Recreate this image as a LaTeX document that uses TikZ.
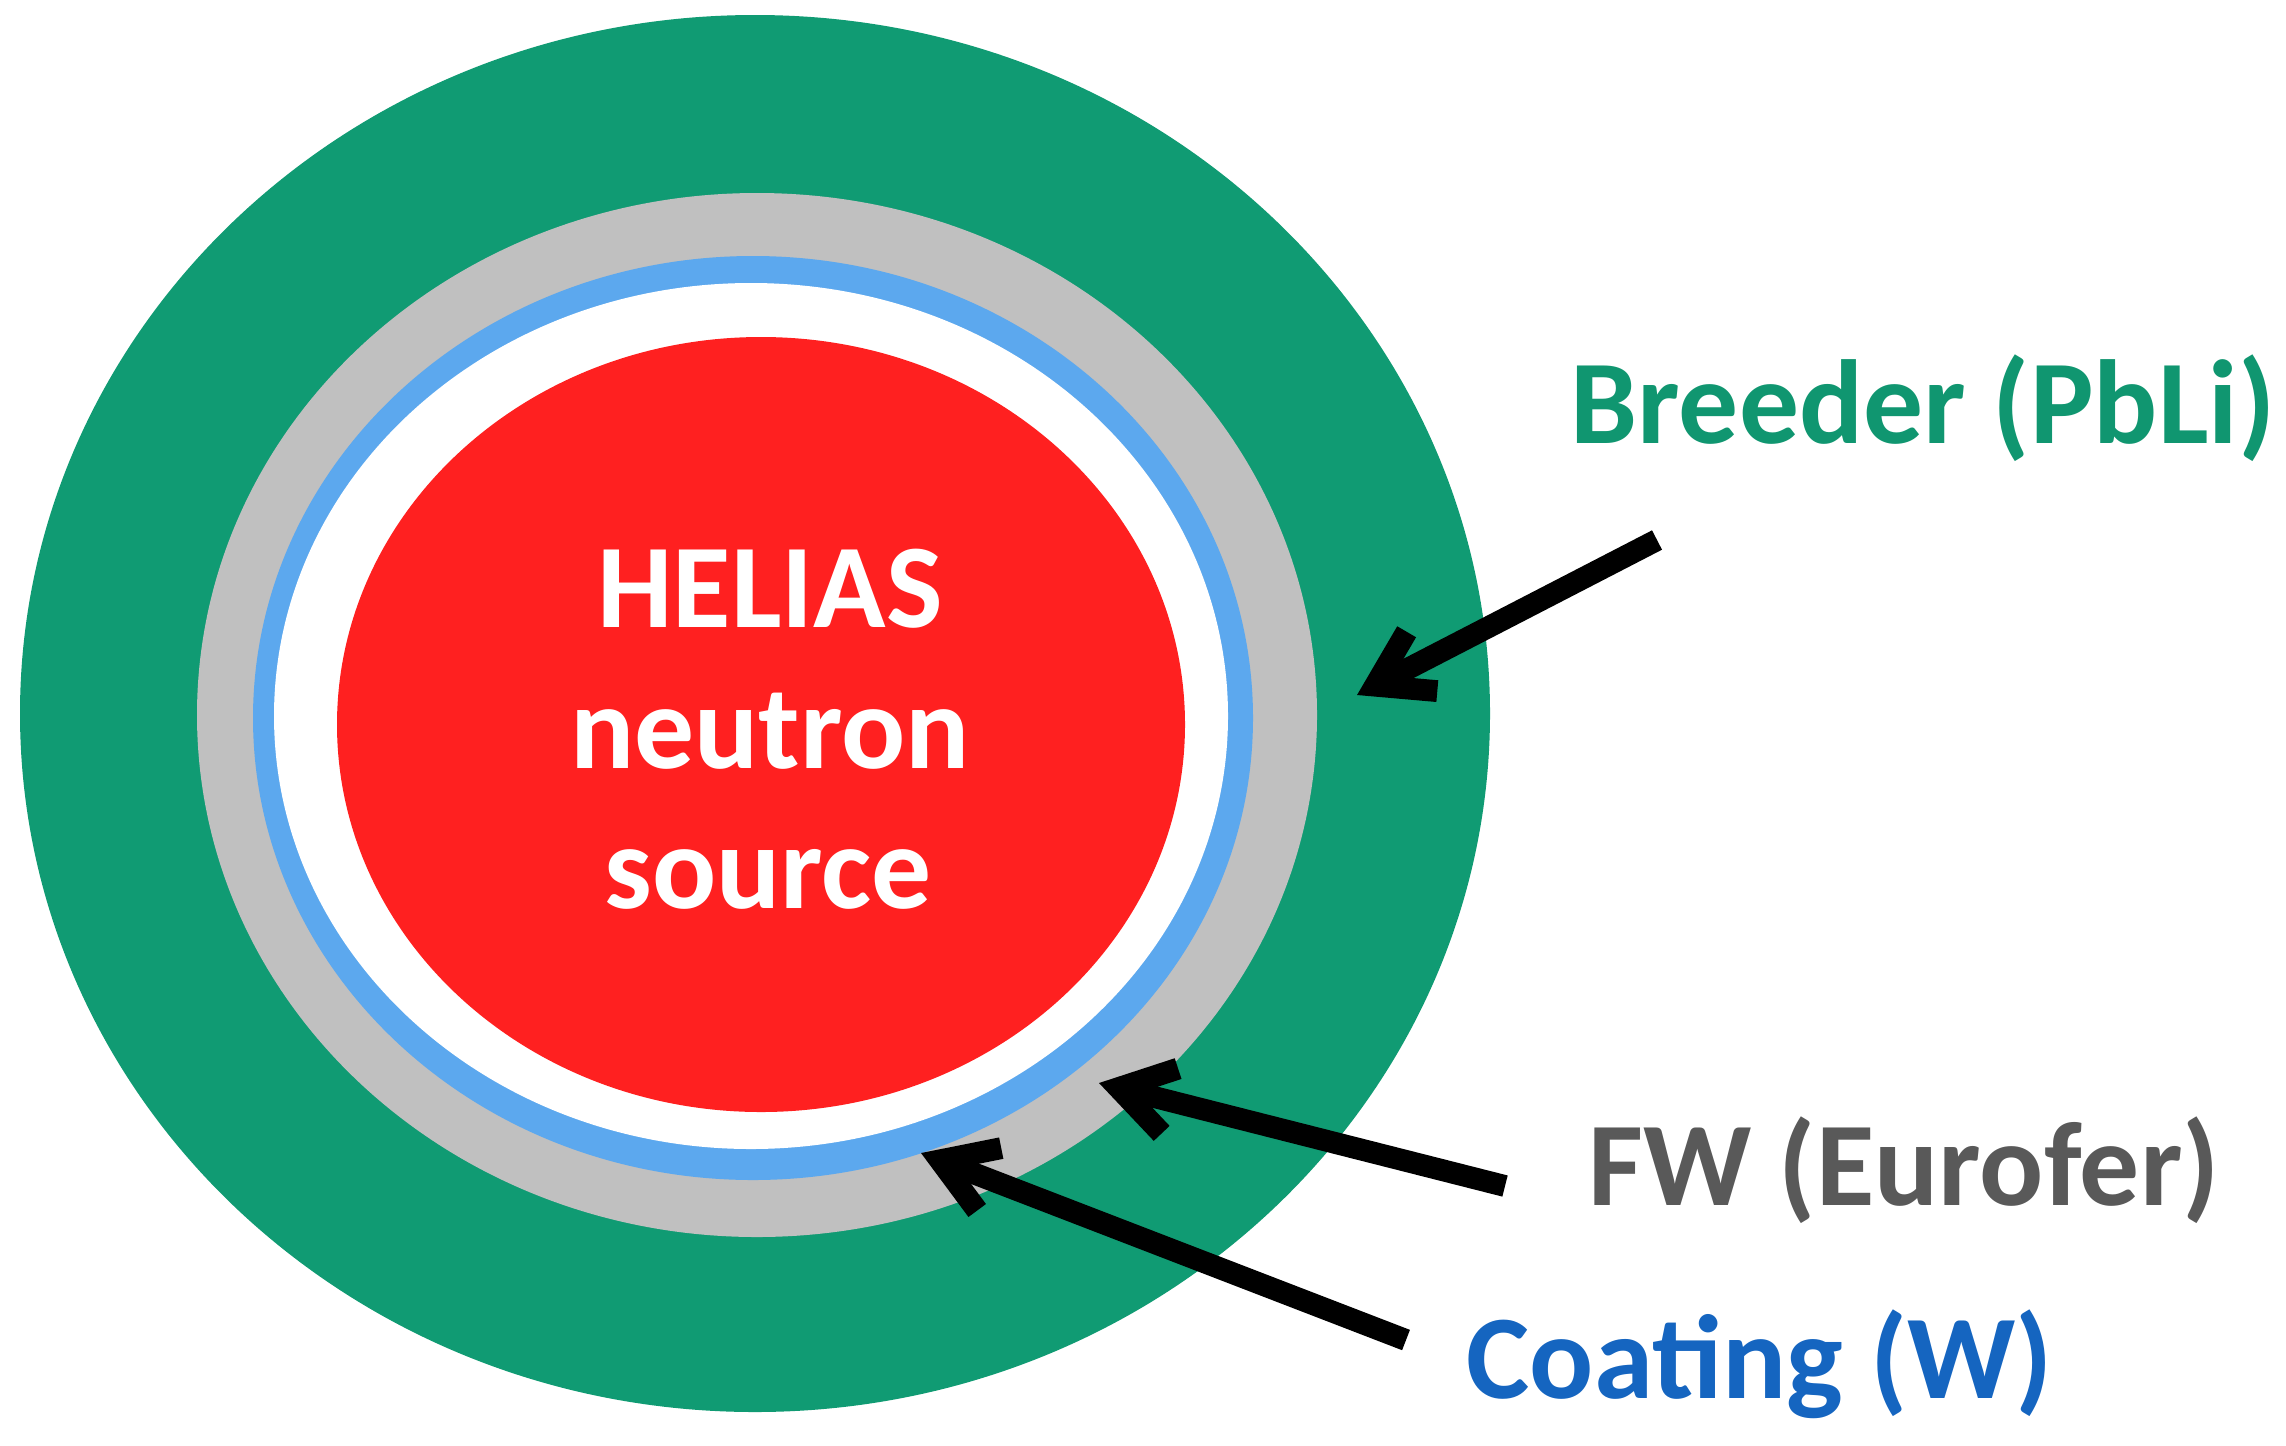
\documentclass[tikz,border=0pt]{standalone}
\usepackage{fontspec}
\setmainfont{Carlito}
\usetikzlibrary{arrows.meta}
\definecolor{breedergreen}{RGB}{16,155,115}
\definecolor{fwgray}{RGB}{192,192,192}
\definecolor{coatblue}{RGB}{92,168,238}
\definecolor{srcred}{RGB}{255,32,32}
\definecolor{breedertext}{RGB}{16,150,112}
\definecolor{fwtext}{RGB}{89,89,89}
\definecolor{coattext}{RGB}{21,101,192}
\begin{document}
\begin{tikzpicture}[x=0.01cm,y=-0.01cm,
  lbl/.style={font=\fontsize{34}{40}\selectfont\bfseries, inner sep=0pt, anchor=base west},
  srctext/.style={font=\fontsize{34}{40}\selectfont\bfseries, inner sep=0pt, anchor=base, text=white},
  ptr/.style={line width=6.2pt, black, line cap=butt,
    -{Straight Barb[length=15pt,width=19pt,line cap=butt,line join=miter]}}]
\useasboundingbox (0,0) rectangle (2286,1445);
% layers
\fill[breedergreen] (755,713.5) ellipse [x radius=735, y radius=698.5];
\fill[fwgray] (757,715) ellipse [x radius=560, y radius=522];
\fill[coatblue] (753,718) ellipse [x radius=500, y radius=462];
\fill[white] (751,716) ellipse [x radius=477, y radius=433];
\fill[srcred] (761,724.5) ellipse [x radius=424, y radius=387.5];
% source text
\node[srctext] (src1) at (770,627) {HELIAS};
\node[srctext] (src2) at (770,768) {neutron};
\node[srctext] (src3) at (768,908) {source};
% labels
\node[lbl, text=breedertext] (breeder) at (1570,443) {Breeder (PbLi)};
\node[lbl, text=fwtext] (fw) at (1588,1205) {FW (Eurofer)};
\node[lbl, text=coattext] (coat) at (1466,1398) {Coating (W)};
% arrow ends
\coordinate (bt) at (1657,540);
\coordinate (bh) at (1357,695);
\coordinate (ft) at (1505,1186);
\coordinate (fh) at (1099,1083);
\coordinate (ct) at (1406,1340);
\coordinate (ch) at (921,1153);
\draw[ptr] (bt) -- (bh);
\draw[ptr] (ft) -- (fh);
\draw[ptr] (ct) -- (ch);
\end{tikzpicture}
\end{document}
